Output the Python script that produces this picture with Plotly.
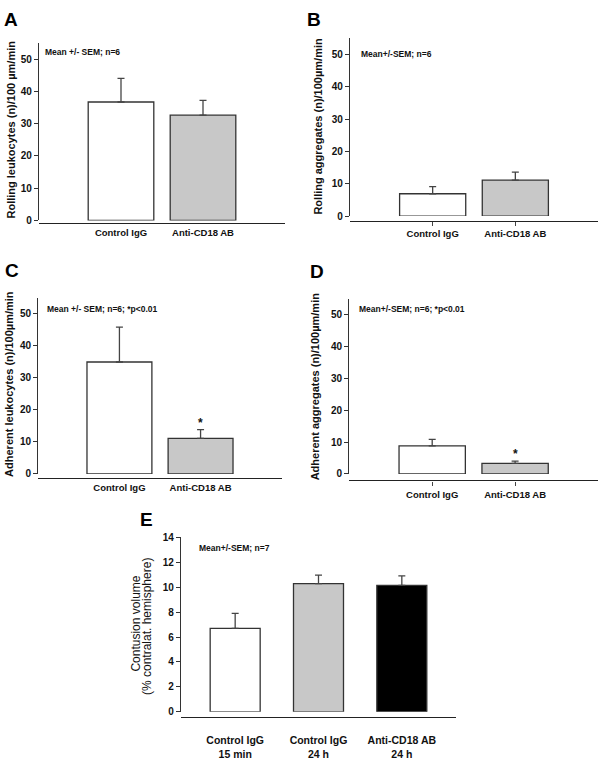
import plotly.graph_objects as go

# ---------------- data ----------------
groups_ad = ["Control IgG", "Anti-CD18 AB"]
rolling_leuk = [36.7, 32.6]
rolling_leuk_sem = [7.3, 4.6]
rolling_aggr = [6.9, 11.1]
rolling_aggr_sem = [2.2, 2.5]
adherent_leuk = [34.9, 11.1]
adherent_leuk_sem = [10.9, 2.7]
adherent_aggr = [8.8, 3.3]
adherent_aggr_sem = [2.0, 0.7]
groups_e = ["Control IgG<br>15 min", "Control IgG<br>24 h", "Anti-CD18 AB<br>24 h"]
contusion = [6.7, 10.28, 10.15]
contusion_sem = [1.2, 0.68, 0.76]

colors_ad = ["#ffffff", "#c8c8c8"]
colors_e = ["#ffffff", "#c8c8c8", "#000000"]

W, H = 600, 760
FONT = "Arial, Liberation Sans, sans-serif"


def px_x(p):
    return p / W


def px_y(p):
    return 1 - p / H


fig = go.Figure()

panels = [
    dict(xl=39, xr=285, y0=218.7, ytop=37.7, xaxis_y=221.5, ymax=55, xr_range=[-1, 2], ticks=False, xfs=9.5, xso=0),
    dict(xl=350, xr=598, y0=214.3, ytop=32.8, xaxis_y=219.0, ymax=55, xr_range=[-1, 2], ticks=True, xfs=9.5, xso=0),
    dict(xl=38.3, xr=281.7, y0=477.3, ytop=297.4, xaxis_y=481.7, ymax=55, xr_range=[-1, 2], ticks=False, xfs=9.5, xso=0),
    dict(xl=349.3, xr=598, y0=477.3, ytop=298.5, xaxis_y=484.0, ymax=55, xr_range=[-1, 2], ticks=True, xfs=9.5, xso=1),
    dict(xl=181, xr=456, y0=720, ytop=542, xaxis_y=725.0, ymax=14, xr_range=[-0.65, 2.65], ticks=False, xfs=10.5, xso=14),
]

series = [
    (groups_ad, rolling_leuk, rolling_leuk_sem, colors_ad, 0.8),
    (groups_ad, rolling_aggr, rolling_aggr_sem, colors_ad, 0.8),
    (groups_ad, adherent_leuk, adherent_leuk_sem, colors_ad, 0.8),
    (groups_ad, adherent_aggr, adherent_aggr_sem, colors_ad, 0.8),
    (groups_e, contusion, contusion_sem, colors_e, 0.6),
]

for i, (p, (cats, vals, sems, cols, width)) in enumerate(zip(panels, series)):
    n = "" if i == 0 else str(i + 1)
    fig.add_trace(go.Bar(
        x=cats, y=vals, width=width,
        marker=dict(color=cols, line=dict(color="#333333", width=1.3)),
        error_y=dict(type="data", symmetric=False, array=sems, arrayminus=[0] * len(sems),
                     color="#444444", thickness=1.3, width=3.5),
        xaxis="x" + n, yaxis="y" + n, showlegend=False, hoverinfo="skip",
    ))
    fig.layout["xaxis" + n] = dict(
        domain=[px_x(p["xl"]), px_x(p["xr"])], anchor="free", position=px_y(p["xaxis_y"]),
        type="category", range=p["xr_range"], showline=True, linecolor="#222222", linewidth=1.3,
        ticks="outside" if p["ticks"] else "", ticklen=4, tickcolor="#444444", tickwidth=1,
        ticklabelstandoff=p["xso"],
        tickfont=dict(family=FONT, size=p["xfs"], color="#111111", weight="bold"),
        showgrid=False, zeroline=False, fixedrange=True,
    )
    fig.layout["yaxis" + n] = dict(
        domain=[px_y(p["y0"]), px_y(p["ytop"])], anchor="x" + n, range=[0, p["ymax"]],
        dtick=10 if p["ymax"] == 55 else 2, tick0=0,
        showline=True, linecolor="#333333", linewidth=1.3,
        ticks="outside", ticklen=4, tickcolor="#333333", tickwidth=1,
        tickfont=dict(family=FONT, size=10, color="#111111", weight="bold"),
        showgrid=False, zeroline=False, fixedrange=True,
    )

annotations = []

# panel letters
for letter, x, y in [("A", 2, 14), ("B", 305, 14), ("C", 3, 270), ("D", 308, 271), ("E", 138, 524)]:
    annotations.append(dict(text=letter, x=px_x(x), y=px_y(y), xref="paper", yref="paper",
                            xanchor="left", yanchor="middle", showarrow=False,
                            font=dict(family=FONT, size=19, color="#000000", weight="bold")))

# y-axis titles
ytitles = [
    ("Rolling leukocytes (n)/100 µm/min", 11, 126, 11, "bold"),
    ("Rolling aggregates (n)/100µm/min", 318, 123, 11, "bold"),
    ("Adherent leukocytes (n)/100µm/min", 9.5, 386, 11, "bold"),
    ("Adherent aggregates (n)/100µm/min", 315, 388, 11, "bold"),
    ("Contusion volume", 136, 630, 12, "normal"),
    ("(% contralat. hemisphere)", 146.5, 633, 12, "normal"),
]
for t, x, y, s, wgt in ytitles:
    annotations.append(dict(text=t, x=px_x(x), y=px_y(y), xref="paper", yref="paper",
                            xanchor="center", yanchor="middle", textangle=-90, showarrow=False,
                            font=dict(family=FONT, size=s, color="#111111", weight=wgt)))

# in-plot notes
notes = [
    ("Mean +/- SEM; n=6", 43, 47),
    ("Mean+/-SEM; n=6", 359, 49),
    ("Mean +/- SEM; n=6; *p<0.01", 45, 309),
    ("Mean+/-SEM; n=6; *p<0.01", 357, 309),
    ("Mean+/-SEM; n=7", 197, 553),
]
for t, x, y in notes:
    annotations.append(dict(text=t, x=px_x(x), y=px_y(y), xref="paper", yref="paper",
                            xanchor="left", yanchor="middle", showarrow=False,
                            font=dict(family=FONT, size=8.5, color="#111111", weight="bold")))

# significance stars
for ax, vals, sems in [("3", adherent_leuk, adherent_leuk_sem), ("4", adherent_aggr, adherent_aggr_sem)]:
    annotations.append(dict(text="*", x=groups_ad[1], y=vals[1] + sems[1], xref="x" + ax, yref="y" + ax,
                            xanchor="center", yanchor="bottom", yshift=-2, showarrow=False,
                            font=dict(family=FONT, size=12, color="#111111", weight="bold")))

fig.update_layout(
    width=W, height=H, margin=dict(l=0, r=0, t=0, b=0),
    paper_bgcolor="white", plot_bgcolor="white",
    annotations=annotations, bargap=0.2,
    font=dict(family=FONT),
)

fig.write_html("out.html", config={"displayModeBar": False},
               post_script="document.body.style.margin='0';")
